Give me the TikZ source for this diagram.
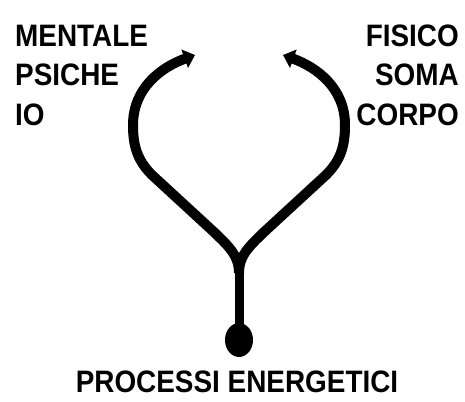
\documentclass[tikz,border=0pt]{standalone}
\usepackage{fontspec}
\setmainfont{Liberation Sans}
\newfontfamily\labfont[FakeStretch=0.9]{Liberation Sans}
\usetikzlibrary{arrows.meta,shapes.geometric}
\begin{document}
\begin{tikzpicture}[x=1pt,y=1pt,
  lab/.style={inner sep=0pt, font=\labfont\bfseries\fontsize{31}{31}\selectfont},
  branch/.style={line width=10pt, -{Triangle[width=19pt,length=11pt]}},
]
\useasboundingbox (0,0) rectangle (465,401);
% labels
\node[lab, anchor=base west] (m) at (15,354) {MENTALE};
\node[lab, anchor=base west] (p) at (15,315) {PSICHE};
\node[lab, anchor=base west] (i) at (15,275) {IO};
\node[lab, anchor=base east] (f) at (459,354) {FISICO};
\node[lab, anchor=base east] (s) at (459,315) {SOMA};
\node[lab, anchor=base east] (c) at (459,275) {CORPO};
\node[lab, anchor=base] (pe) at (237,9) {PROCESSI ENERGETICI};
% stem and blob
\node[ellipse, fill=black, minimum width=28pt, minimum height=34pt, inner sep=0pt] (blob) at (239,61) {};
\coordinate (fork) at (239,132);
\draw[line width=9pt] (blob.center) -- (fork);
% branches
\coordinate (ltip) at (195,346);
\coordinate (rtip) at (283,346);
\draw[branch] (239,128) to[out=90,in=-45] (215,168) -- (152,226)
  to[out=135,in=-90] (133,276) to[out=90,in=200] (ltip);
\draw[branch] (239,128) to[out=90,in=225] (263,168) -- (326,226)
  to[out=45,in=-90] (345,276) to[out=90,in=-20] (rtip);
\end{tikzpicture}
\end{document}
